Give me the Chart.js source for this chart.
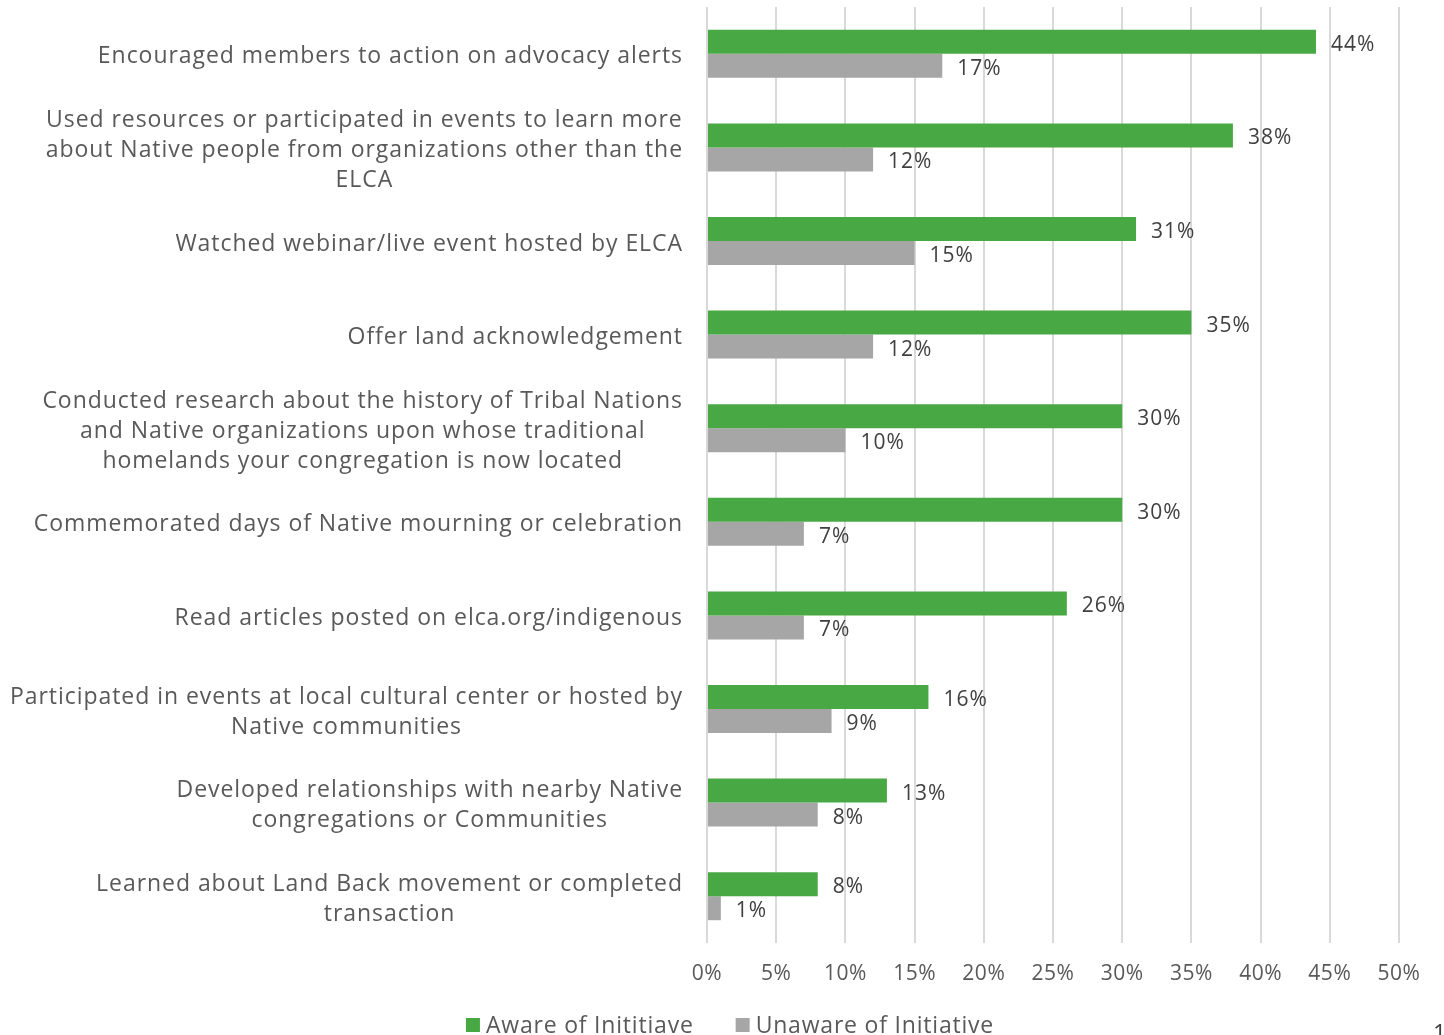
<!DOCTYPE html>
<html lang="en">
<head>
    <meta charset="UTF-8">
    <title>Native engagement activities</title>
    <script src="https://cdn.jsdelivr.net/npm/chart.js@4.4.0/dist/chart.umd.min.js"></script>
    <style>
        html, body { margin: 0; padding: 0; background: #fff; overflow: hidden; }
        #wrap { position: relative; width: 1444px; height: 1035px; }
        #pageNo { position: absolute; left: 1433px; top: 1016px; font: 23px "Open Sans", sans-serif; color: #404040; }
    </style>
</head>
<body>
    <div id="wrap">
        <canvas id="chart" width="1444" height="1035"></canvas>
        <div id="pageNo">1</div>
    </div>

    <script>
        // categories (multi-line labels as arrays)
        const categories = [
            ['Encouraged members to action on advocacy alerts'],
            ['Used resources or participated in events to learn more', 'about Native people from organizations other than the', 'ELCA'],
            ['Watched webinar/live event hosted by ELCA'],
            ['Offer land acknowledgement'],
            ['Conducted research about the history of Tribal Nations', 'and Native organizations upon whose traditional', 'homelands your congregation is now located'],
            ['Commemorated days of Native mourning or celebration'],
            ['Read articles posted on elca.org/indigenous'],
            ['Participated in events at local cultural center or hosted by', 'Native communities'],
            ['Developed relationships with nearby Native', 'congregations or Communities'],
            ['Learned about Land Back movement or completed', 'transaction']
        ];
        const aware = [44, 38, 31, 35, 30, 30, 26, 16, 13, 8];
        const unaware = [17, 12, 15, 12, 10, 7, 7, 9, 8, 1];
        const xTicks = [0, 5, 10, 15, 20, 25, 30, 35, 40, 45, 50];

        const FONT = '"Open Sans", Lato, sans-serif';
        const GREEN = '#48a844';
        const GREY = '#a6a6a6';

        // slight tracking for the axis tick text
        const trackingPlugin = {
            id: 'tracking',
            beforeDraw(chart) { chart.ctx.letterSpacing = '0.5px'; }
        };

        // category labels: block right-aligned, lines centred inside the block
        const labelPlugin = {
            id: 'catLabels',
            afterDraw(chart) {
                const ctx = chart.ctx;
                const y = chart.scales.y;
                const right = chart.chartArea.left - 24;
                const lh = 30;
                ctx.save();
                ctx.font = '23px ' + FONT;
                ctx.letterSpacing = '0.95px';
                ctx.fillStyle = '#595959';
                ctx.textAlign = 'center';
                ctx.textBaseline = 'middle';
                categories.forEach((lines, i) => {
                    const w = Math.max(...lines.map(l => ctx.measureText(l).width));
                    const cx = right - w / 2;
                    const cy = y.getPixelForValue(i) + 3;
                    const top = cy - (lines.length - 1) * lh / 2;
                    lines.forEach((l, j) => ctx.fillText(l, cx, top + j * lh));
                });
                ctx.restore();
            }
        };

        // value labels just past the end of each bar
        const valuePlugin = {
            id: 'valueLabels',
            afterDatasetsDraw(chart) {
                const ctx = chart.ctx;
                ctx.save();
                ctx.font = '21px ' + FONT;
                ctx.letterSpacing = '1px';
                ctx.fillStyle = '#404040';
                ctx.textAlign = 'left';
                ctx.textBaseline = 'middle';
                chart.data.datasets.forEach((ds, di) => {
                    chart.getDatasetMeta(di).data.forEach((bar, i) => {
                        ctx.fillText(ds.data[i] + '%', bar.x + 15, bar.y + 3);
                    });
                });
                ctx.restore();
            }
        };

        // legend drawn by hand so the box/text spacing matches
        const legendPlugin = {
            id: 'bottomLegend',
            afterDraw(chart) {
                const ctx = chart.ctx;
                const items = chart.data.datasets.map(ds => ({ text: ds.label, color: ds.backgroundColor }));
                const box = 14, gap = 6, between = 42;
                ctx.save();
                ctx.font = '23px ' + FONT;
                ctx.letterSpacing = '0.8px';
                ctx.textBaseline = 'middle';
                ctx.textAlign = 'left';
                const widths = items.map(it => box + gap + ctx.measureText(it.text).width);
                const total = widths.reduce((a, b) => a + b, 0) + between * (items.length - 1);
                let x = 730 - total / 2;
                const cy = 1025;
                items.forEach((it, i) => {
                    ctx.fillStyle = it.color;
                    ctx.fillRect(x, cy - 7, box, box);
                    ctx.fillStyle = '#595959';
                    ctx.fillText(it.text, x + box + gap, cy + 1);
                    x += widths[i] + between;
                });
                ctx.restore();
            }
        };

        new Chart(document.getElementById('chart'), {
            type: 'bar',
            data: {
                labels: categories.map(c => c.join(' ')),
                datasets: [{
                    label: 'Aware of Inititiave',
                    data: aware,
                    backgroundColor: GREEN,
                    categoryPercentage: 0.513,
                    barPercentage: 1.0
                }, {
                    label: 'Unaware of Initiative',
                    data: unaware,
                    backgroundColor: GREY,
                    categoryPercentage: 0.513,
                    barPercentage: 1.0
                }]
            },
            options: {
                indexAxis: 'y',
                responsive: false,
                animation: false,
                layout: { padding: { top: 7, right: 45, left: 0, bottom: 0 } },
                scales: {
                    x: {
                        min: 0,
                        max: 50,
                        afterBuildTicks: scale => { scale.ticks = xTicks.map(v => ({ value: v })); },
                        afterFit: scale => { scale.height = 92; },
                        grid: { color: '#d9d9d9', lineWidth: 2, drawTicks: false },
                        border: { display: false },
                        ticks: {
                            padding: 18,
                            color: '#595959',
                            font: { family: FONT, size: 21 },
                            callback: v => v + '%'
                        }
                    },
                    y: {
                        afterFit: scale => { scale.width = 707; },
                        grid: { display: false },
                        border: { display: false },
                        ticks: { display: false }
                    }
                },
                plugins: {
                    legend: { display: false },
                    tooltip: { enabled: false }
                }
            },
            plugins: [trackingPlugin, labelPlugin, valuePlugin, legendPlugin]
        });
    </script>
</body>
</html>
